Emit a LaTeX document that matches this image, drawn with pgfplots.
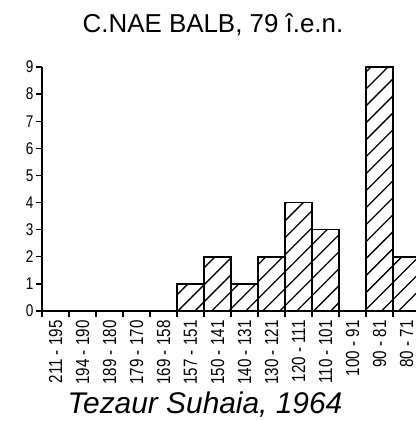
\documentclass[border=0pt]{standalone}
\usepackage{fontspec}
\setmainfont{Liberation Sans}
\newfontfamily\tickfont{Liberation Sans}[FakeStretch=0.8]
\newcommand\Y{\tickfont\fontsize{17}{17}\selectfont}
\usepackage{pgfplots}
\pgfplotsset{compat=1.18}
\usetikzlibrary{patterns.meta}
\begin{document}
\begin{tikzpicture}
\begin{axis}[
 at={(0,0)}, anchor=south west, scale only axis,
 width=374bp, height=244bp,
 xmin=0, xmax=13.85, ymin=0, ymax=9,
 axis x line*=bottom, axis y line*=left,
 axis line style={line width=1.5bp,-},
 ytick={0,...,9},
 yticklabels={{\Y 0},{\Y 1},{\Y 2},{\Y 3},{\Y 4},{\Y 5},{\Y 6},{\Y 7},{\Y 8},{\Y 9}},
 xtick={0.5,1.5,...,13.5},
 xticklabels={211 - 195,194 - 190,189 - 180,179 - 170,169 - 158,157 - 151,150 - 141,140 - 131,130 - 121,120 - 111,110 - 101,100 - 91,90 - 81,80 - 71},
 minor xtick={0,...,13},
 tick style={line width=1.3bp,black},
 major x tick style={draw=none},
 tick align=outside,
 major tick length=6bp, minor tick length=6bp,
 xticklabel style={rotate=90, anchor=east, font=\tickfont\fontsize{19}{19}\selectfont},
 yticklabel style={font=\Y, xshift=1bp},
 clip=false,
]
\addplot[ybar, bar width=27bp, draw=black, line width=1.5bp,
  pattern={Lines[angle=45,distance=12bp,line width=1.3bp]}]
  coordinates {(5.5,1) (6.5,2) (7.5,1) (8.5,2) (9.5,4) (10.5,3) (12.5,9) (13.5,2)};
\end{axis}
\node[font=\fontsize{26}{26}\selectfont] at (171bp,286bp) {C.NAE BALB, 79 î.e.n.};
\node[font=\itshape\fontsize{30}{30}\selectfont] at (163bp,-94bp) {Tezaur Suhaia, 1964};
\pgfresetboundingbox
\useasboundingbox (-42bp,-110bp) rectangle (374bp,311bp);
\end{tikzpicture}
\end{document}
